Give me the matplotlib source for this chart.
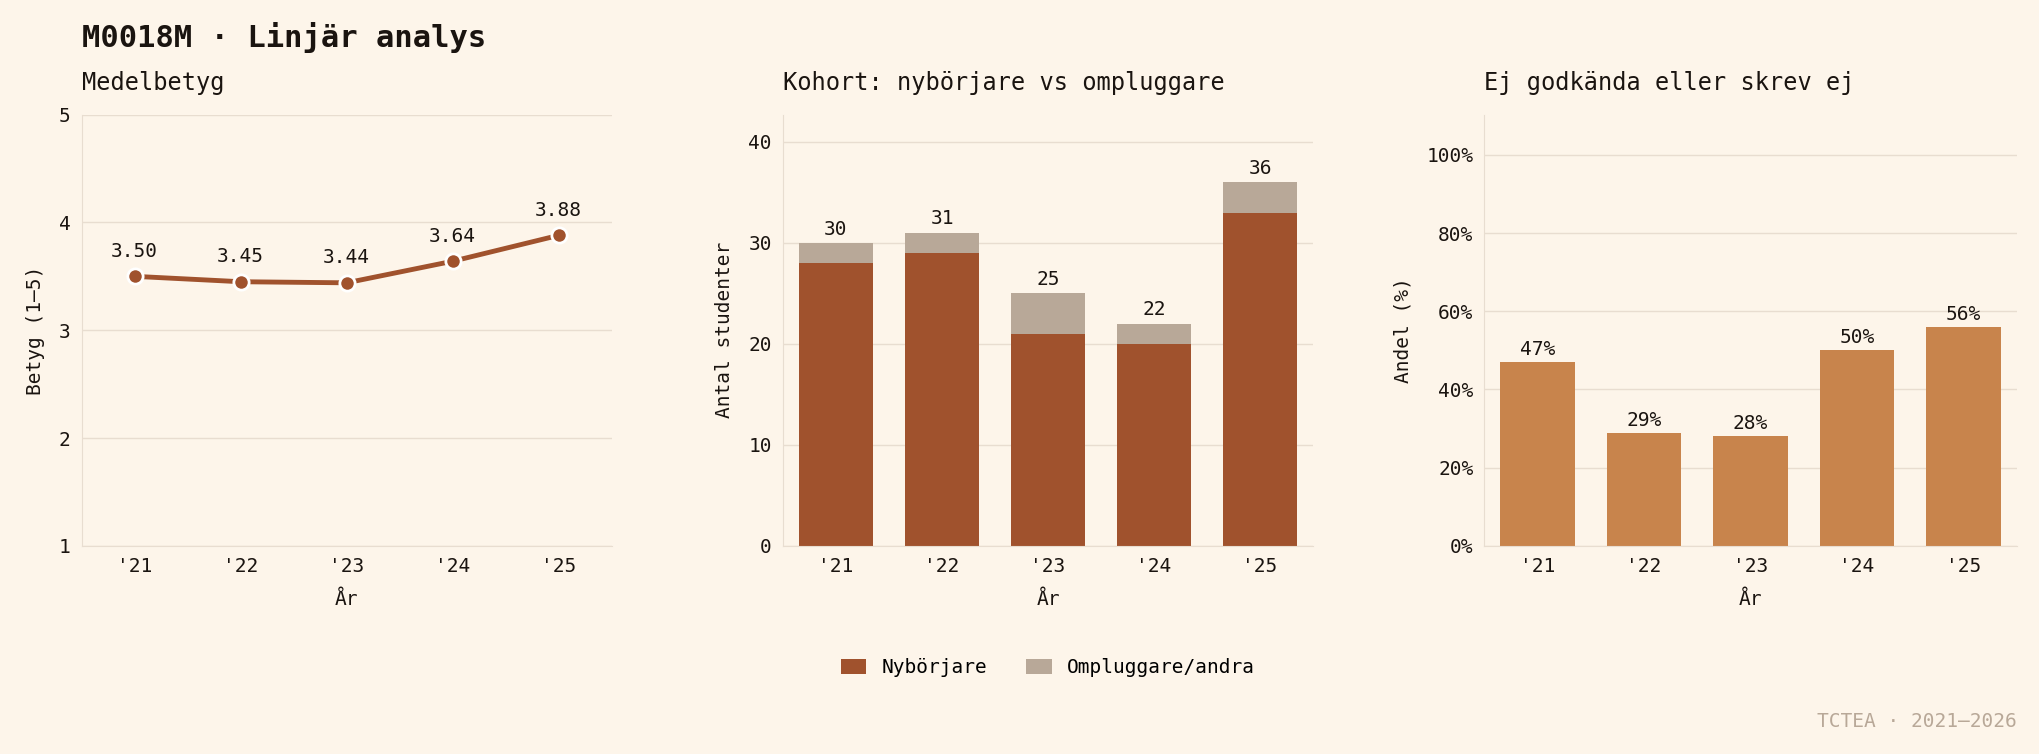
import matplotlib
matplotlib.use("Agg")
import matplotlib.pyplot as plt
import numpy as np
from matplotlib.ticker import PercentFormatter

years = ["'21", "'22", "'23", "'24", "'25"]
mean_grade = [3.50, 3.45, 3.44, 3.64, 3.88]
new_students = [28, 29, 21, 20, 33]
other_students = [2, 2, 4, 2, 3]
fail_share = [0.47, 0.29, 0.28, 0.50, 0.56]

BG = "#fdf5ea"
RUST = "#a0522d"
TAUPE = "#b8a898"
OCHRE = "#c8844c"
GRID = "#e8ddd0"
TXT = "#1a1410"

plt.rcParams['font.family'] = ['DejaVu Sans Mono']
plt.rcParams['font.size'] = 13

fig = plt.figure(figsize=(20.39, 7.54), dpi=100, facecolor=BG)
pos = [[0.040, 0.276, 0.260, 0.572], [0.384, 0.276, 0.260, 0.572], [0.728, 0.276, 0.261, 0.572]]
axes = [fig.add_axes(p) for p in pos]
x = np.arange(len(years))

def style(ax, ylabel):
    ax.set_facecolor(BG)
    for s in ['top', 'right']:
        ax.spines[s].set_visible(False)
    for s in ['left', 'bottom']:
        ax.spines[s].set_color(GRID)
    ax.grid(axis='y', color=GRID, lw=1)
    ax.set_axisbelow(True)
    ax.tick_params(length=0, labelsize=14, colors=TXT, pad=8)
    ax.set_xticks(x, years)
    ax.set_xlabel("År", fontsize=14, color=TXT, labelpad=10)
    ax.set_ylabel(ylabel, fontsize=14, color=TXT, labelpad=10)

ax = axes[0]
style(ax, "Betyg (1–5)")
ax.plot(x, mean_grade, color=RUST, lw=3.5, marker='o', ms=11, mec='white', mew=2, zorder=3)
for i, v in enumerate(mean_grade):
    ax.annotate(f"{v:.2f}", (i, v), xytext=(0, 14), textcoords='offset points', ha='center', fontsize=14, color=TXT)
ax.set_ylim(1, 5)
ax.set_xlim(-0.5, 4.5)
ax.set_yticks([1, 2, 3, 4, 5])
ax.set_title("Medelbetyg", loc='left', fontsize=17, color=TXT, pad=18)

ax = axes[1]
style(ax, "Antal studenter")
ax.bar(x, new_students, 0.7, color=RUST, label="Nybörjare")
ax.bar(x, other_students, 0.7, bottom=new_students, color=TAUPE, label="Ompluggare/andra")
for i in range(len(x)):
    t = new_students[i] + other_students[i]
    ax.annotate(f"{t}", (i, t), xytext=(0, 6), textcoords='offset points', ha='center', fontsize=14, color=TXT)
ax.set_ylim(0, 42.7)
ax.set_xlim(-0.5, 4.5)
ax.set_yticks([0, 10, 20, 30, 40])
ax.set_title("Kohort: nybörjare vs ompluggare", loc='left', fontsize=17, color=TXT, pad=18)
ax.legend(loc='upper center', bbox_to_anchor=(0.5, -0.22), ncol=2, frameon=False, fontsize=14,
          handlelength=1.3, handleheight=0.8, columnspacing=2)

ax = axes[2]
style(ax, "Andel (%)")
ax.bar(x, fail_share, 0.7, color=OCHRE)
for i, v in enumerate(fail_share):
    ax.annotate(f"{v*100:.0f}%", (i, v), xytext=(0, 5), textcoords='offset points', ha='center', fontsize=14, color=TXT)
ax.set_ylim(0, 1.103)
ax.set_xlim(-0.5, 4.5)
ax.set_yticks([0, 0.2, 0.4, 0.6, 0.8, 1.0])
ax.yaxis.set_major_formatter(PercentFormatter(1.0, decimals=0))
ax.set_title("Ej godkända eller skrev ej", loc='left', fontsize=17, color=TXT, pad=18)

fig.text(0.040, 0.95, "M0018M · Linjär analys", fontsize=22, fontweight='bold', color=TXT, va='center')
fig.text(0.989, 0.043, "TCTEA · 2021–2026", fontsize=14, color=TAUPE, ha='right', va='center')

fig.savefig("out.png", dpi=100, facecolor=BG)
